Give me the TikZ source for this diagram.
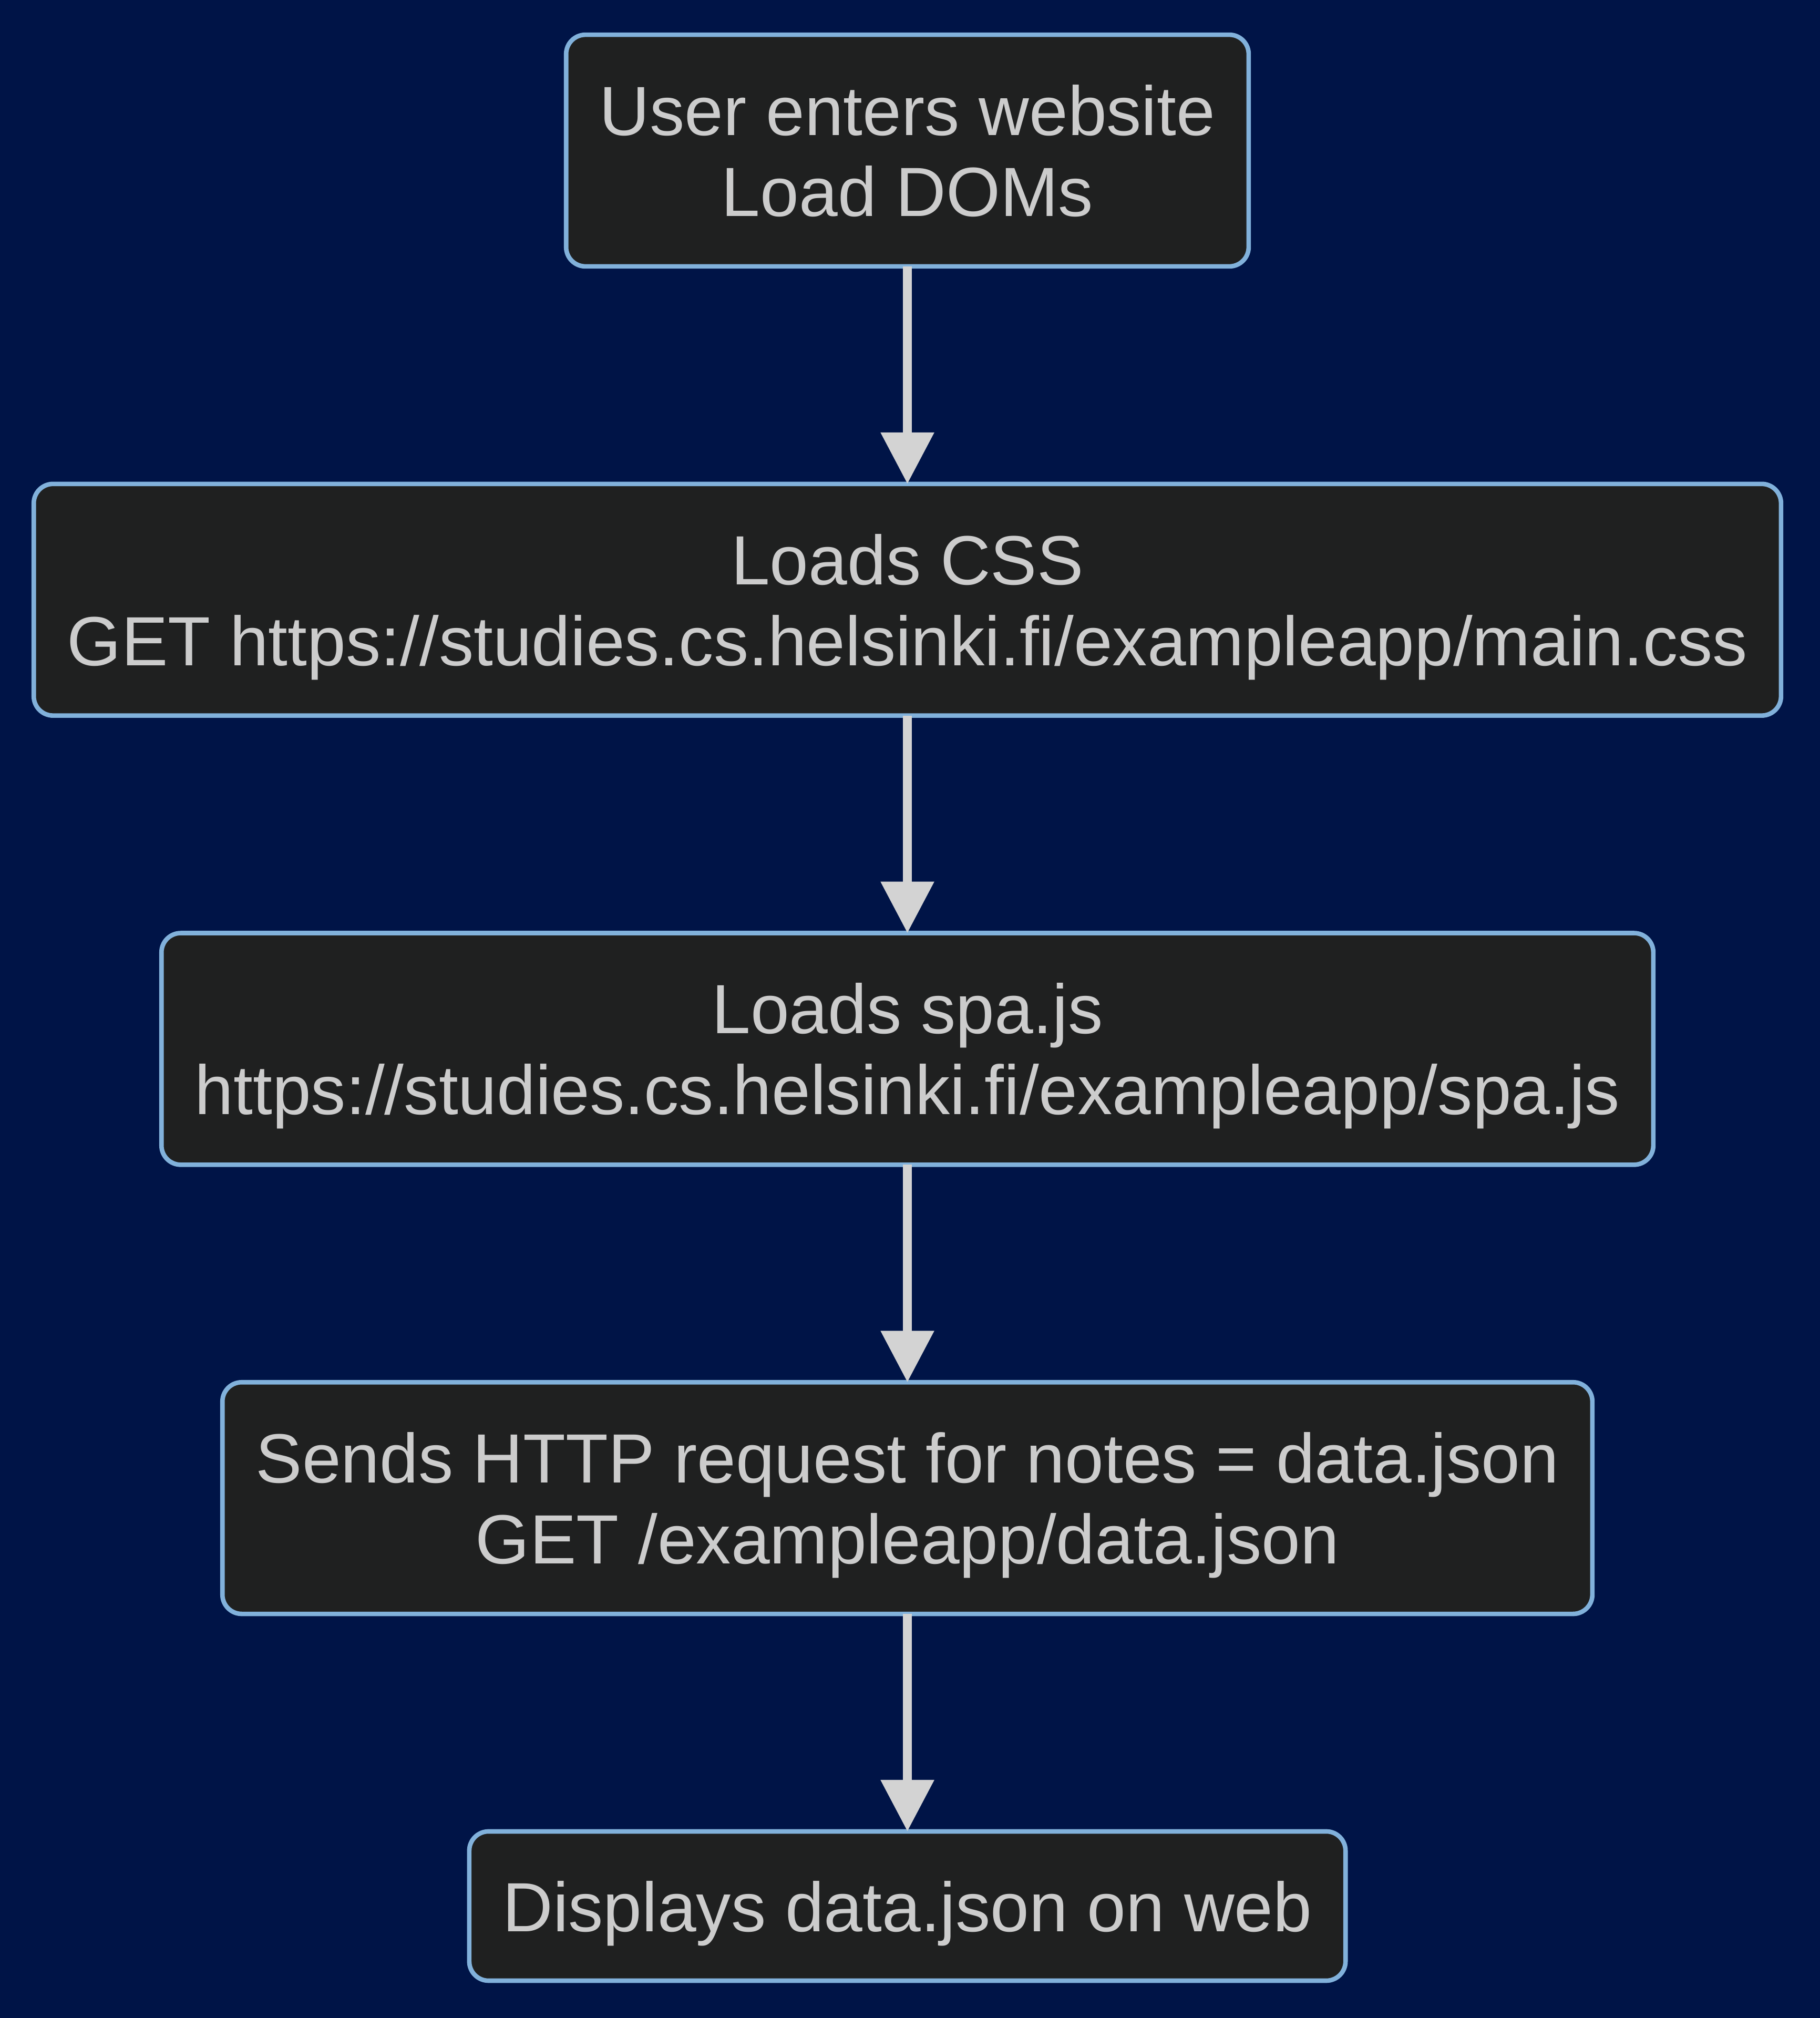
\documentclass[tikz,border=0pt]{standalone}
\usepackage{fontspec}
\setmainfont{Liberation Sans}
\usepackage{tikz}
\usetikzlibrary{arrows.meta,positioning}
\definecolor{mmnavy}{HTML}{001447}
\definecolor{mmbox}{HTML}{1F2020}
\definecolor{mmedge}{HTML}{81B1DB}
\definecolor{mmtext}{HTML}{CCCCCC}
\definecolor{mmarrow}{HTML}{D3D3D3}

\begin{document}
\begin{tikzpicture}[font=\fontsize{15.4}{17.9}\selectfont,
  stepbox/.style={draw=mmedge,fill=mmbox,line width=1pt,rounded corners=0.15cm,
    text=mmtext,align=center,inner xsep=0.26cm,inner ysep=0pt,text depth=0pt,
    minimum height=1.8cm,outer sep=0pt},
  flow/.style={draw=mmarrow,line width=1.9pt,-{Triangle[length=4mm,width=4mm]}},
  node distance=1.69cm]
  % page: navy background
  \fill[mmnavy] (0,0) rectangle (14.14,-15.68);
  \useasboundingbox (0,0) rectangle (14.14,-15.68);
  % steps, top to bottom
  \node[stepbox] (enter) at (7.05,-1.17) {User enters website\\Load DOMs};
  \node[stepbox,below=of enter] (css) {Loads CSS\\GET https://studies.cs.helsinki.fi/exampleapp/main.css};
  \node[stepbox,below=of css] (spa) {Loads spa.js\\https://studies.cs.helsinki.fi/exampleapp/spa.js};
  \node[stepbox,below=of spa] (request) {Sends HTTP request for notes = data.json\\GET /exampleapp/data.json};
  \node[stepbox,minimum height=1.16cm,below=of request] (display) {Displays data.json on web};
  % arrows between the steps
  \foreach \from/\to in {enter/css,css/spa,spa/request,request/display}
    \draw[flow] (\from) -- (\to);
\end{tikzpicture}
\end{document}
